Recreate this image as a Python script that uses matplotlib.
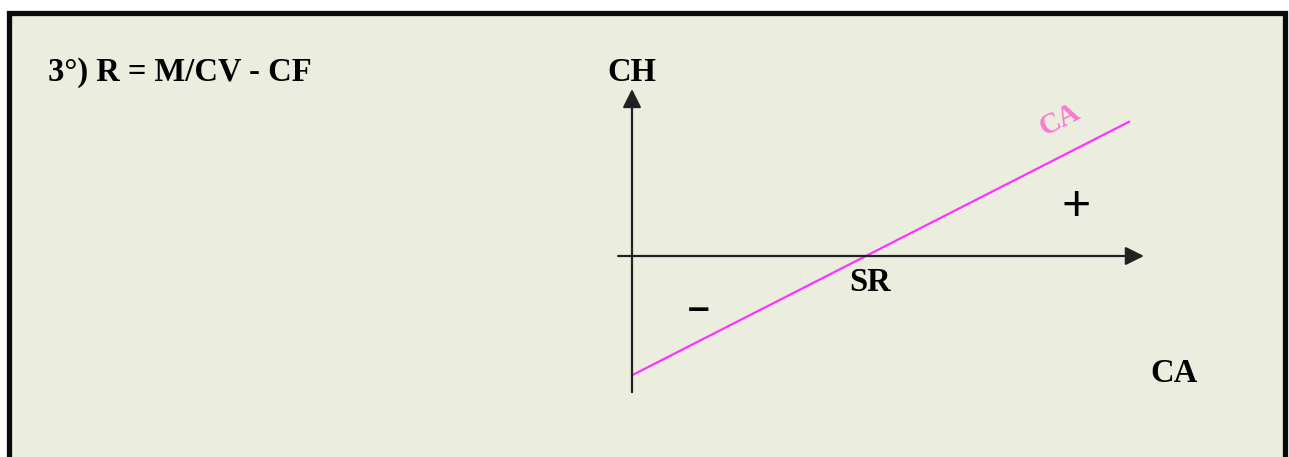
import matplotlib.pyplot as plt
from matplotlib.patches import Rectangle

# droite du résultat : R = M/CV * CA - CF (schéma)
ca = [0, 100]
r = [-24, 27]
sr = -r[0] * (ca[1] - ca[0]) / (r[1] - r[0])  # seuil de rentabilité

title = "3°) R = M/CV - CF"

px = 4.97  # pixels par unité
W, H = 1289, 457
ox, oy = 632, 256  # origine en pixels

fig = plt.figure(figsize=(W / 100, H / 100), dpi=100)
ax = fig.add_axes([0, 0, 1, 1])
ax.set_xlim(-ox / px, (W - ox) / px)
ax.set_ylim(-(H - oy) / px, oy / px)
ax.axis("off")

# cadre
ax.add_patch(Rectangle((9 / W, -0.1), 1275.5 / W, 1.1 - 13.5 / H,
                       transform=fig.transFigure, facecolor="#ebeedf",
                       edgecolor="#0a0a0a", linewidth=3.8, zorder=0, clip_on=False))

serif = "Liberation Serif"
fs = 23.5
ax.text(-584 / px, 37.0, title, fontsize=fs, fontweight="bold", family=serif,
        ha="left", va="center")

# axes
arrow = dict(arrowstyle="-|>", lw=1.6, color="#222222", mutation_scale=28,
             shrinkA=0, shrinkB=0)
ax.annotate("", xy=(103.0, 0), xytext=(-2.8, 0), arrowprops=arrow)
ax.annotate("", xy=(0, 33.6), xytext=(0, -27.4), arrowprops=arrow)

ax.plot(ca, r, color="#ff33ff", lw=1.6)

ax.text(0, 37.0, "CH", fontsize=fs, fontweight="bold", family=serif, ha="center", va="center")
ax.text(sr + 0.8, -5.4, "SR", fontsize=fs, fontweight="bold", family=serif, ha="center", va="center")
ax.text(109.1, -23.7, "CA", fontsize=fs, fontweight="bold", family=serif, ha="center", va="center")
ax.text(86.1, 27.4, "CA", fontsize=21, fontweight="bold", family=serif, color="#ff77d0",
        rotation=27, ha="center", va="center")
ax.text(13.5, -10.9, "–", fontsize=28, fontweight="bold", family="Liberation Sans",
        ha="center", va="center")
ax.text(89.3, 9.9, "+", fontsize=36, family="Liberation Sans", ha="center", va="center")

fig.savefig("out.png", dpi=100, facecolor="white")
